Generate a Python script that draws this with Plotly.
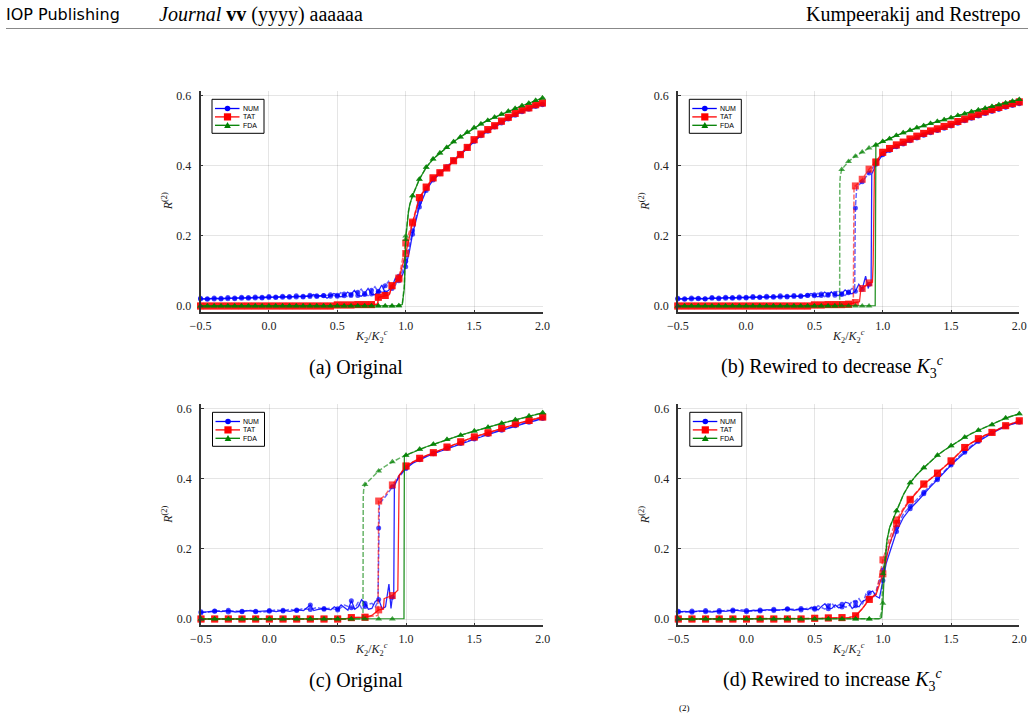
import plotly.graph_objects as go

W, H = 1034, 715

# sampling grid of the control parameter K2/K2c (step 0.05)
X = [round(-0.5 + 0.05 * i, 2) for i in range(51)]

# ---------------- panel (a) Original ----------------
a_num_f = [0.020, 0.021, 0.020, 0.022, 0.021, 0.023, 0.022, 0.024, 0.023, 0.025,
           0.024, 0.026, 0.025, 0.027, 0.026, 0.028, 0.027, 0.029, 0.030, 0.028,
           0.031, 0.029, 0.033, 0.030, 0.036, 0.034, 0.042, 0.038, 0.055, 0.072,
           0.112, 0.205, 0.283, 0.330, 0.360, 0.378, 0.394, 0.414, 0.431, 0.450,
           0.470, 0.486, 0.499, 0.511, 0.523, 0.534, 0.545, 0.555, 0.562, 0.570,
           0.575]
a_num_f_extra = [(0.325, 0.033), (0.425, 0.022), (0.475, 0.036), (0.525, 0.026), (0.575, 0.040),
                 (0.625, 0.045), (0.675, 0.028), (0.725, 0.050), (0.775, 0.032), (0.825, 0.060),
                 (0.875, 0.045), (0.925, 0.080), (0.975, 0.088), (1.025, 0.152)]
a_num_b = [0.022, 0.019, 0.023, 0.020, 0.024, 0.021, 0.025, 0.022, 0.026, 0.023,
           0.027, 0.024, 0.028, 0.025, 0.029, 0.026, 0.031, 0.027, 0.029, 0.032,
           0.028, 0.034, 0.030, 0.039, 0.033, 0.045, 0.040, 0.058, 0.050, 0.085,
           0.128, 0.215, 0.296, 0.336, 0.364, 0.382, 0.398, 0.417, 0.435, 0.454,
           0.473, 0.489, 0.502, 0.514, 0.526, 0.537, 0.547, 0.557, 0.564, 0.572,
           0.577]
a_num_b_extra = [(0.525, 0.038), (0.575, 0.026), (0.625, 0.042), (0.675, 0.048), (0.725, 0.030),
                 (0.775, 0.055), (0.825, 0.040), (0.875, 0.070), (0.925, 0.060), (0.975, 0.098),
                 (1.025, 0.170)]
a_tat_f = [0.000, 0.000, 0.000, 0.000, 0.000, 0.000, 0.000, 0.000, 0.000, 0.000,
           0.000, 0.000, 0.000, 0.000, 0.000, 0.000, 0.000, 0.000, 0.000, 0.000,
           0.003, 0.003, 0.003, 0.004, 0.004, 0.004, 0.025, 0.030, 0.058, 0.077,
           0.150, 0.237, 0.309, 0.339, 0.366, 0.380, 0.394, 0.415, 0.432, 0.453,
           0.475, 0.491, 0.504, 0.515, 0.528, 0.539, 0.550, 0.560, 0.566, 0.575,
           0.580]
a_tat_f_extra = [(0.795, 0.005), (0.88, 0.032)]
a_tat_b = [0.000, 0.000, 0.000, 0.000, 0.000, 0.000, 0.000, 0.000, 0.000, 0.000,
           0.000, 0.000, 0.000, 0.000, 0.000, 0.000, 0.000, 0.000, 0.000, 0.000,
           0.003, 0.003, 0.003, 0.004, 0.004, 0.004, 0.025, 0.030, 0.058, 0.080,
           0.180, 0.240, 0.310, 0.340, 0.366, 0.381, 0.395, 0.415, 0.433, 0.453,
           0.475, 0.491, 0.504, 0.515, 0.528, 0.539, 0.550, 0.560, 0.566, 0.575,
           0.580]
a_tat_b_extra = [(0.795, 0.005), (0.88, 0.032)]
a_fda_f = [0.000, 0.000, 0.000, 0.000, 0.000, 0.000, 0.000, 0.000, 0.000, 0.000,
           0.000, 0.000, 0.000, 0.000, 0.000, 0.000, 0.000, 0.000, 0.000, 0.000,
           0.000, 0.000, 0.000, 0.000, 0.000, 0.000, 0.000, 0.000, 0.000, 0.001,
           0.190, 0.315, 0.362, 0.396, 0.420, 0.437, 0.453, 0.469, 0.483, 0.496,
           0.509, 0.520, 0.530, 0.539, 0.548, 0.556, 0.564, 0.572, 0.579, 0.587,
           0.594]
a_fda_f_extra = [(0.975, 0.004), (0.99, 0.050), (1.01, 0.235), (1.02, 0.268), (1.03, 0.290), (1.04, 0.305)]
a_fda_b = [0.000, 0.000, 0.000, 0.000, 0.000, 0.000, 0.000, 0.000, 0.000, 0.000,
           0.000, 0.000, 0.000, 0.000, 0.000, 0.000, 0.000, 0.000, 0.000, 0.000,
           0.000, 0.000, 0.000, 0.000, 0.000, 0.000, 0.000, 0.000, 0.000, 0.001,
           0.200, 0.315, 0.362, 0.396, 0.420, 0.437, 0.453, 0.469, 0.483, 0.496,
           0.509, 0.520, 0.530, 0.539, 0.548, 0.556, 0.564, 0.572, 0.579, 0.587,
           0.594]
a_fda_b_extra = [(0.975, 0.005), (0.99, 0.060), (1.01, 0.240), (1.02, 0.270), (1.03, 0.290), (1.04, 0.305)]

# ---------------- panel (b) Rewired to decrease K3c ----------------
b_num_f = [0.020, 0.021, 0.020, 0.022, 0.021, 0.022, 0.023, 0.022, 0.024, 0.023,
           0.025, 0.024, 0.026, 0.025, 0.027, 0.026, 0.028, 0.027, 0.029, 0.030,
           0.032, 0.030, 0.033, 0.031, 0.035, 0.038, 0.042, 0.048, 0.062, 0.405,
           0.432, 0.444, 0.455, 0.463, 0.472, 0.480, 0.488, 0.495, 0.501, 0.508,
           0.514, 0.522, 0.529, 0.536, 0.543, 0.550, 0.556, 0.562, 0.568, 0.573,
           0.578]
b_num_f_extra = [(0.475, 0.036), (0.525, 0.026), (0.575, 0.040), (0.625, 0.040), (0.675, 0.030),
                 (0.725, 0.046), (0.775, 0.035), (0.825, 0.062), (0.875, 0.085),
                 (0.895, 0.050), (0.915, 0.058), (0.92, 0.377), (0.935, 0.390)]
b_num_b = [0.022, 0.019, 0.023, 0.021, 0.020, 0.024, 0.021, 0.025, 0.022, 0.026,
           0.023, 0.027, 0.024, 0.028, 0.025, 0.029, 0.026, 0.030, 0.027, 0.031,
           0.029, 0.034, 0.031, 0.036, 0.033, 0.040, 0.280, 0.355, 0.380, 0.408,
           0.434, 0.446, 0.456, 0.465, 0.474, 0.482, 0.489, 0.497, 0.503, 0.510,
           0.516, 0.524, 0.531, 0.538, 0.545, 0.551, 0.557, 0.563, 0.569, 0.575,
           0.580]
b_num_b_extra = [(0.525, 0.036), (0.575, 0.027), (0.625, 0.040), (0.675, 0.045), (0.725, 0.030),
                 (0.775, 0.050), (0.795, 0.048), (0.81, 0.340)]
b_tat_f = [0.000, 0.000, 0.000, 0.000, 0.000, 0.000, 0.000, 0.000, 0.000, 0.000,
           0.000, 0.000, 0.000, 0.000, 0.000, 0.000, 0.000, 0.000, 0.000, 0.000,
           0.003, 0.003, 0.004, 0.004, 0.004, 0.005, 0.010, 0.050, 0.066, 0.410,
           0.439, 0.450, 0.460, 0.468, 0.477, 0.485, 0.493, 0.500, 0.506, 0.513,
           0.519, 0.527, 0.534, 0.541, 0.548, 0.555, 0.561, 0.567, 0.573, 0.578,
           0.583]
b_tat_f_extra = [(0.83, 0.012), (0.84, 0.048), (0.925, 0.068), (0.93, 0.120), (0.94, 0.400)]
b_tat_b = [0.000, 0.000, 0.000, 0.000, 0.000, 0.000, 0.000, 0.000, 0.000, 0.000,
           0.000, 0.000, 0.000, 0.000, 0.000, 0.000, 0.000, 0.000, 0.000, 0.000,
           0.003, 0.003, 0.004, 0.004, 0.004, 0.005, 0.343, 0.362, 0.391, 0.412,
           0.439, 0.450, 0.460, 0.468, 0.477, 0.485, 0.493, 0.500, 0.506, 0.513,
           0.519, 0.527, 0.534, 0.541, 0.548, 0.555, 0.561, 0.567, 0.573, 0.578,
           0.583]
b_tat_b_extra = [(0.785, 0.006), (0.79, 0.343)]
b_fda_f = [0.000, 0.000, 0.000, 0.000, 0.000, 0.000, 0.000, 0.000, 0.000, 0.000,
           0.000, 0.000, 0.000, 0.000, 0.000, 0.000, 0.000, 0.000, 0.000, 0.000,
           0.000, 0.000, 0.000, 0.000, 0.000, 0.000, 0.000, 0.000, 0.000, 0.460,
           0.470, 0.478, 0.487, 0.495, 0.502, 0.509, 0.515, 0.521, 0.527, 0.532,
           0.538, 0.544, 0.549, 0.555, 0.560, 0.565, 0.570, 0.575, 0.580, 0.585,
           0.590]
b_fda_f_extra = [(0.945, 0.001)]
b_fda_b = [0.000, 0.000, 0.000, 0.000, 0.000, 0.000, 0.000, 0.000, 0.000, 0.000,
           0.000, 0.000, 0.000, 0.000, 0.000, 0.000, 0.000, 0.000, 0.000, 0.000,
           0.000, 0.000, 0.000, 0.000, 0.390, 0.413, 0.428, 0.440, 0.451, 0.460,
           0.470, 0.478, 0.487, 0.495, 0.502, 0.509, 0.515, 0.521, 0.527, 0.532,
           0.538, 0.544, 0.549, 0.555, 0.560, 0.565, 0.570, 0.575, 0.580, 0.585,
           0.590]
b_fda_b_extra = [(0.685, 0.000), (0.686, 0.350), (0.69, 0.372)]

# ---------------- panel (c) Original ----------------
c_num_f = [0.018, 0.020, 0.023, 0.021, 0.025, 0.020, 0.022, 0.024, 0.021, 0.023,
           0.024, 0.021, 0.025, 0.022, 0.026, 0.024, 0.040, 0.027, 0.030, 0.026,
           0.029, 0.033, 0.052, 0.035, 0.045, 0.030, 0.056, 0.035, 0.062, 0.410,
           0.430, 0.445, 0.455, 0.464, 0.472, 0.479, 0.487, 0.494, 0.501, 0.508,
           0.514, 0.520, 0.527, 0.533, 0.539, 0.545, 0.552, 0.557, 0.562, 0.567,
           0.573]
c_num_f_extra = [(0.325, 0.024), (0.475, 0.035), (0.525, 0.040), (0.575, 0.025), (0.625, 0.028),
                 (0.675, 0.055), (0.725, 0.028), (0.775, 0.050), (0.825, 0.030),
                 (0.875, 0.100), (0.89, 0.030), (0.91, 0.060), (0.915, 0.380)]
c_num_b = [0.021, 0.019, 0.022, 0.024, 0.020, 0.023, 0.021, 0.025, 0.022, 0.020,
           0.022, 0.026, 0.023, 0.028, 0.024, 0.030, 0.027, 0.033, 0.028, 0.031,
           0.026, 0.040, 0.032, 0.048, 0.036, 0.045, 0.260, 0.350, 0.378, 0.405,
           0.432, 0.447, 0.457, 0.466, 0.474, 0.481, 0.489, 0.496, 0.503, 0.510,
           0.516, 0.522, 0.529, 0.535, 0.541, 0.547, 0.554, 0.559, 0.564, 0.569,
           0.575]
c_num_b_extra = [(0.525, 0.034), (0.625, 0.030), (0.675, 0.030), (0.725, 0.042), (0.775, 0.035),
                 (0.795, 0.050), (0.805, 0.330)]
c_tat_f = [0.000, 0.000, 0.000, 0.000, 0.000, 0.000, 0.000, 0.000, 0.000, 0.000,
           0.000, 0.000, 0.000, 0.000, 0.000, 0.000, 0.000, 0.000, 0.000, 0.000,
           0.000, 0.000, 0.004, 0.004, 0.005, 0.010, 0.026, 0.060, 0.067, 0.410,
           0.437, 0.449, 0.459, 0.467, 0.475, 0.483, 0.491, 0.499, 0.506, 0.513,
           0.520, 0.526, 0.532, 0.539, 0.545, 0.552, 0.558, 0.562, 0.567, 0.572,
           0.577]
c_tat_f_extra = [(0.835, 0.028), (0.84, 0.058), (0.94, 0.082), (0.945, 0.400)]
c_tat_b = [0.000, 0.000, 0.000, 0.000, 0.000, 0.000, 0.000, 0.000, 0.000, 0.000,
           0.000, 0.000, 0.000, 0.000, 0.000, 0.000, 0.000, 0.000, 0.000, 0.000,
           0.000, 0.000, 0.004, 0.004, 0.005, 0.008, 0.337, 0.355, 0.383, 0.410,
           0.437, 0.449, 0.459, 0.467, 0.475, 0.483, 0.491, 0.499, 0.506, 0.513,
           0.520, 0.526, 0.532, 0.539, 0.545, 0.552, 0.558, 0.562, 0.567, 0.572,
           0.577]
c_tat_b_extra = [(0.795, 0.010)]
c_fda_f = [0.000, 0.000, 0.000, 0.000, 0.000, 0.000, 0.000, 0.000, 0.000, 0.000,
           0.000, 0.000, 0.000, 0.000, 0.000, 0.000, 0.000, 0.000, 0.000, 0.000,
           0.000, 0.000, 0.000, 0.000, 0.000, 0.000, 0.000, 0.000, 0.000, 0.000,
           0.468, 0.477, 0.485, 0.492, 0.499, 0.506, 0.513, 0.519, 0.525, 0.531,
           0.537, 0.543, 0.548, 0.554, 0.559, 0.564, 0.569, 0.575, 0.580, 0.585,
           0.589]
c_fda_f_extra = [(0.985, 0.001), (0.988, 0.466)]
c_fda_b = [0.000, 0.000, 0.000, 0.000, 0.000, 0.000, 0.000, 0.000, 0.000, 0.000,
           0.000, 0.000, 0.000, 0.000, 0.000, 0.000, 0.000, 0.000, 0.000, 0.000,
           0.000, 0.000, 0.000, 0.000, 0.384, 0.405, 0.423, 0.437, 0.449, 0.459,
           0.468, 0.477, 0.485, 0.492, 0.499, 0.506, 0.513, 0.519, 0.525, 0.531,
           0.537, 0.543, 0.548, 0.554, 0.559, 0.564, 0.569, 0.575, 0.580, 0.585,
           0.589]
c_fda_b_extra = [(0.685, 0.000), (0.687, 0.350), (0.69, 0.368)]

# ---------------- panel (d) Rewired to increase K3c ----------------
d_num_f = [0.020, 0.022, 0.019, 0.023, 0.021, 0.020, 0.024, 0.022, 0.026, 0.023,
           0.021, 0.025, 0.023, 0.027, 0.024, 0.026, 0.028, 0.025, 0.030, 0.027,
           0.031, 0.036, 0.029, 0.040, 0.034, 0.045, 0.038, 0.050, 0.075, 0.065,
           0.110, 0.190, 0.250, 0.290, 0.315, 0.335, 0.358, 0.378, 0.398, 0.420,
           0.440, 0.458, 0.476, 0.492, 0.507, 0.520, 0.531, 0.541, 0.550, 0.557,
           0.562]
d_num_f_extra = [(0.475, 0.034), (0.525, 0.026), (0.575, 0.044), (0.625, 0.030), (0.675, 0.032),
                 (0.725, 0.048), (0.775, 0.030), (0.825, 0.035), (0.875, 0.055),
                 (0.925, 0.080), (0.975, 0.060), (1.025, 0.160), (1.075, 0.220)]
d_num_b = [0.022, 0.019, 0.023, 0.021, 0.024, 0.022, 0.020, 0.025, 0.023, 0.027,
           0.024, 0.022, 0.026, 0.024, 0.028, 0.025, 0.029, 0.027, 0.026, 0.031,
           0.028, 0.033, 0.038, 0.032, 0.042, 0.036, 0.048, 0.042, 0.060, 0.080,
           0.140, 0.215, 0.262, 0.300, 0.322, 0.342, 0.362, 0.382, 0.402, 0.424,
           0.444, 0.462, 0.480, 0.495, 0.510, 0.522, 0.533, 0.543, 0.552, 0.559,
           0.564]
d_num_b_extra = [(0.525, 0.038), (0.575, 0.028), (0.625, 0.046), (0.675, 0.040), (0.725, 0.034),
                 (0.775, 0.052), (0.825, 0.058), (0.875, 0.070), (0.925, 0.058)]
d_tat_f = [0.000, 0.000, 0.000, 0.000, 0.000, 0.000, 0.000, 0.000, 0.000, 0.000,
           0.000, 0.000, 0.000, 0.000, 0.000, 0.000, 0.000, 0.000, 0.000, 0.000,
           0.002, 0.002, 0.003, 0.003, 0.004, 0.004, 0.009, 0.030, 0.056, 0.070,
           0.129, 0.215, 0.273, 0.312, 0.340, 0.364, 0.385, 0.400, 0.416, 0.434,
           0.451, 0.471, 0.490, 0.503, 0.515, 0.525, 0.533, 0.543, 0.552, 0.559,
           0.566]
d_tat_f_extra = []
d_tat_b = [0.000, 0.000, 0.000, 0.000, 0.000, 0.000, 0.000, 0.000, 0.000, 0.000,
           0.000, 0.000, 0.000, 0.000, 0.000, 0.000, 0.000, 0.000, 0.000, 0.000,
           0.002, 0.002, 0.003, 0.003, 0.004, 0.004, 0.009, 0.030, 0.056, 0.072,
           0.169, 0.232, 0.283, 0.316, 0.342, 0.365, 0.386, 0.401, 0.417, 0.435,
           0.452, 0.471, 0.490, 0.503, 0.515, 0.525, 0.533, 0.543, 0.552, 0.559,
           0.566]
d_tat_b_extra = []
d_fda_f = [0.000, 0.000, 0.000, 0.000, 0.000, 0.000, 0.000, 0.000, 0.000, 0.000,
           0.000, 0.000, 0.000, 0.000, 0.000, 0.000, 0.000, 0.000, 0.000, 0.000,
           0.000, 0.000, 0.000, 0.000, 0.000, 0.000, 0.000, 0.000, 0.000, 0.000,
           0.045, 0.262, 0.309, 0.355, 0.389, 0.413, 0.432, 0.451, 0.468, 0.482,
           0.495, 0.508, 0.519, 0.530, 0.539, 0.547, 0.555, 0.565, 0.574, 0.580,
           0.586]
d_fda_f_extra = [(0.975, 0.001), (0.99, 0.004), (1.01, 0.130), (1.02, 0.190), (1.03, 0.225)]
d_fda_b = [0.000, 0.000, 0.000, 0.000, 0.000, 0.000, 0.000, 0.000, 0.000, 0.000,
           0.000, 0.000, 0.000, 0.000, 0.000, 0.000, 0.000, 0.000, 0.000, 0.000,
           0.000, 0.000, 0.000, 0.000, 0.000, 0.000, 0.000, 0.000, 0.000, 0.000,
           0.130, 0.262, 0.309, 0.355, 0.389, 0.413, 0.432, 0.451, 0.468, 0.482,
           0.495, 0.508, 0.519, 0.530, 0.539, 0.547, 0.555, 0.565, 0.574, 0.580,
           0.586]
d_fda_b_extra = [(0.975, 0.001), (0.99, 0.020), (1.02, 0.190), (1.03, 0.225)]

x_ticks = [-0.5, 0.0, 0.5, 1.0, 1.5, 2.0]
y_ticks = [0.0, 0.2, 0.4, 0.6]
methods = ["NUM", "TAT", "FDA"]
captions = ["(a) Original", "(b) Rewired to decrease <i>K</i><sub>3</sub><sup><i>c</i></sup>",
            "(c) Original", "(d) Rewired to increase <i>K</i><sub>3</sub><sup><i>c</i></sup>"]

# ---------------- styling ----------------
RGB = {"NUM": (0, 0, 255), "TAT": (255, 0, 0), "FDA": (0, 128, 0)}
SYM = {"NUM": "circle", "TAT": "square", "FDA": "triangle-up"}
MSZ = {"NUM": 5, "TAT": 7, "FDA": 6}
SERIF = "Liberation Serif"

# pixel boxes of the four plot areas: (left, top, right, bottom)
BOXES = [(200.5, 91.4, 542.5, 312.3), (677.8, 91.4, 1019.3, 312.3),
         (201.0, 404.4, 542.7, 625.3), (678.3, 404.4, 1019.3, 625.3)]
EVERY = [1, 1, 2, 2]
CAP_Y = [367, 367, 680, 680]

DATA = [
    {"NUM": (a_num_f, a_num_f_extra, a_num_b, a_num_b_extra),
     "TAT": (a_tat_f, a_tat_f_extra, a_tat_b, a_tat_b_extra),
     "FDA": (a_fda_f, a_fda_f_extra, a_fda_b, a_fda_b_extra)},
    {"NUM": (b_num_f, b_num_f_extra, b_num_b, b_num_b_extra),
     "TAT": (b_tat_f, b_tat_f_extra, b_tat_b, b_tat_b_extra),
     "FDA": (b_fda_f, b_fda_f_extra, b_fda_b, b_fda_b_extra)},
    {"NUM": (c_num_f, c_num_f_extra, c_num_b, c_num_b_extra),
     "TAT": (c_tat_f, c_tat_f_extra, c_tat_b, c_tat_b_extra),
     "FDA": (c_fda_f, c_fda_f_extra, c_fda_b, c_fda_b_extra)},
    {"NUM": (d_num_f, d_num_f_extra, d_num_b, d_num_b_extra),
     "TAT": (d_tat_f, d_tat_f_extra, d_tat_b, d_tat_b_extra),
     "FDA": (d_fda_f, d_fda_f_extra, d_fda_b, d_fda_b_extra)},
]


def fx(px):
    return px / W


def fy(py):
    return 1 - py / H


def build(vals, extra, every):
    assert len(vals) == len(X)
    pts = [(x, y, i % every == 0) for i, (x, y) in enumerate(zip(X, vals))]
    pts += [(x, y, False) for x, y in extra]
    pts.sort(key=lambda p: p[0])
    return [p[0] for p in pts], [p[1] for p in pts], [p[2] for p in pts]


fig = go.Figure()
layout = {}
shapes = []
annotations = []

for k in range(4):
    L, T, R, B = BOXES[k]
    sx = "" if k == 0 else str(k + 1)
    xref, yref = "x" + sx, "y" + sx
    for m in methods:
        r, g, b = RGB[m]
        vf, ef, vb, eb = DATA[k][m]
        for vals, extra, dash, alpha, lw in ((vf, ef, "solid", 0.85, 1.3),
                                             (vb, eb, "5px,2px", 0.6, 1.5)):
            xs, ys, mk = build(vals, extra, EVERY[k])
            fig.add_trace(go.Scatter(
                x=xs, y=ys, xaxis=xref, yaxis=yref, mode="lines+markers",
                line=dict(color=f"rgba({r},{g},{b},{alpha})", width=lw, dash=dash),
                marker=dict(symbol=SYM[m], size=[MSZ[m] if v else 0 for v in mk],
                            color=f"rgb({r},{g},{b})", line=dict(width=0)),
                showlegend=False, cliponaxis=False, hoverinfo="skip"))

    common = dict(showline=True, linecolor="#333", linewidth=1.5, ticks="inside",
                  ticklen=3, tickcolor="#333", tickwidth=1, showgrid=True,
                  gridcolor="rgba(0,0,0,0.1)", gridwidth=1, zeroline=False,
                  tickfont=dict(family=SERIF, size=12, color="#222"), tickformat=".1f",
                  fixedrange=True, mirror=False, automargin=False)
    layout["xaxis" + sx] = dict(domain=[fx(L), fx(R)], range=[-0.5, 2.0], anchor=yref,
                                tickvals=x_ticks, ticklabelstandoff=2, **common)
    layout["yaxis" + sx] = dict(domain=[fy(B), fy(T)], range=[-0.018, 0.613], anchor=xref,
                                tickvals=y_ticks, ticklabelstandoff=5, **common)

    # axis titles
    annotations.append(dict(x=fx((L + R) / 2), y=fy(B + 24), xref="paper", yref="paper",
                            text="<i>K</i><sub>2</sub>/<i>K</i><sub>2</sub><sup><i>c</i></sup>",
                            showarrow=False, font=dict(family=SERIF, size=12, color="#222"),
                            xanchor="center", yanchor="middle"))
    annotations.append(dict(x=fx(L - 33), y=fy((T + B) / 2), xref="paper", yref="paper",
                            text="<i>R</i><sup>(2)</sup>", textangle=-90, showarrow=False,
                            font=dict(family=SERIF, size=12, color="#222"),
                            xanchor="center", yanchor="middle"))
    # caption
    annotations.append(dict(x=fx((L + R) / 2 - 16), y=fy(CAP_Y[k]), xref="paper", yref="paper",
                            text=captions[k], showarrow=False,
                            font=dict(family=SERIF, size=20, color="#000"),
                            xanchor="center", yanchor="middle"))

    # legend box
    bx0, by0, bx1, by1 = L + 11.5, T + 7.9, L + 63.5, T + 41.9
    shapes.append(dict(type="rect", xref="paper", yref="paper", x0=fx(bx0), x1=fx(bx1),
                       y0=fy(by1), y1=fy(by0), line=dict(color="#000", width=1),
                       fillcolor="white", layer="above"))
    for j, m in enumerate(methods):
        r, g, b = RGB[m]
        cy = T + 17.1 + 8.4 * j
        col = f"rgb({r},{g},{b})"
        shapes.append(dict(type="line", xref="paper", yref="paper", x0=fx(L + 14.5), x1=fx(L + 39),
                           y0=fy(cy), y1=fy(cy), line=dict(color=col, width=1.3), layer="above"))
        cx = L + 27
        if m == "NUM":
            shapes.append(dict(type="circle", xref="paper", yref="paper", x0=fx(cx - 2.8), x1=fx(cx + 2.8),
                               y0=fy(cy + 2.8), y1=fy(cy - 2.8), fillcolor=col,
                               line=dict(width=0), layer="above"))
        elif m == "TAT":
            shapes.append(dict(type="rect", xref="paper", yref="paper", x0=fx(cx - 3.6), x1=fx(cx + 3.6),
                               y0=fy(cy + 3.6), y1=fy(cy - 3.6), fillcolor=col,
                               line=dict(width=0), layer="above"))
        else:
            path = (f"M {fx(cx - 3.4)},{fy(cy + 2.8)} L {fx(cx + 3.4)},{fy(cy + 2.8)} "
                    f"L {fx(cx)},{fy(cy - 3.2)} Z")
            shapes.append(dict(type="path", xref="paper", yref="paper", path=path, fillcolor=col,
                               line=dict(width=0), layer="above"))
        annotations.append(dict(x=fx(L + 40), y=fy(cy), xref="paper", yref="paper", text=m,
                                showarrow=False, font=dict(family="Liberation Sans", size=7, color="#000"),
                                xanchor="left", yanchor="middle"))

# page header
annotations.append(dict(x=fx(4), y=fy(15), xref="paper", yref="paper", text="IOP Publishing",
                        showarrow=False, font=dict(family="DejaVu Sans", size=16, color="#000"),
                        xanchor="left", yanchor="middle"))
annotations.append(dict(x=fx(157), y=fy(15), xref="paper", yref="paper",
                        text="<i>Journal</i> <b>vv</b> (yyyy) aaaaaa",
                        showarrow=False, font=dict(family=SERIF, size=20, color="#000"),
                        xanchor="left", yanchor="middle"))
annotations.append(dict(x=fx(1022), y=fy(15), xref="paper", yref="paper",
                        text="Kumpeerakij and Restrepo",
                        showarrow=False, font=dict(family=SERIF, size=20, color="#000"),
                        xanchor="right", yanchor="middle"))
annotations.append(dict(x=fx(684), y=fy(714.5), xref="paper", yref="paper", text="(2)",
                        showarrow=False, font=dict(family=SERIF, size=9, color="#000"),
                        xanchor="center", yanchor="bottom"))
shapes.append(dict(type="line", xref="paper", yref="paper", x0=fx(6), x1=fx(1028),
                   y0=fy(28.5), y1=fy(28.5), line=dict(color="#888", width=1)))

fig.update_layout(width=W, height=H,
                  margin=dict(l=0, r=0, t=0, b=0, pad=0, autoexpand=False),
                  paper_bgcolor="white", plot_bgcolor="white", showlegend=False,
                  shapes=shapes, annotations=annotations, **layout)

fig.write_html("out.html", config={"responsive": False, "displayModeBar": False})
